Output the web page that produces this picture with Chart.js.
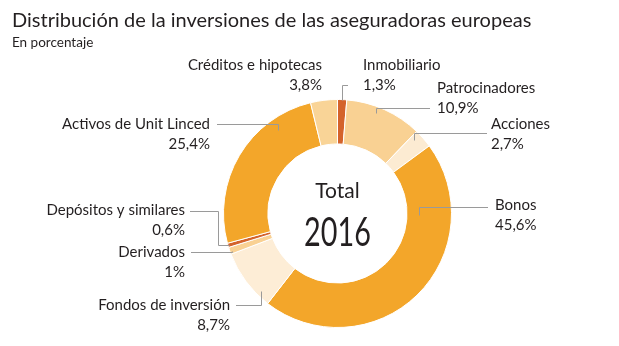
<!DOCTYPE html>
<html>
<head>
<meta charset="utf-8">
<script src="https://cdn.jsdelivr.net/npm/chart.js@4.4.1/dist/chart.umd.min.js"></script>
<style>
  html, body { margin: 0; padding: 0; background: #fff; }
  #wrap { width: 619px; height: 346px; }
</style>
</head>
<body>
<div id="wrap"><canvas id="chart" width="619" height="346"></canvas></div>
<script>
// data, clockwise from the top
const categories = ["Inmobiliario", "Patrocinadores", "Acciones", "Bonos", "Fondos de inversión",
  "Derivados", "Depósitos y similares", "Activos de Unit Linced", "Créditos e hipotecas"];
const values = [1.3, 10.9, 2.7, 45.6, 8.7, 1, 0.6, 25.4, 3.8];
const colors = ["#d4632b", "#f9d193", "#fcebd2", "#f3a62a", "#fdedd6",
  "#f9d193", "#d4632b", "#f3a62a", "#f9d497"];
const titleText = "Distribución de la inversiones de las aseguradoras europeas";
const subtitleText = "En porcentaje";
const centerTop = "Total";
const centerYear = "2016";

// where each label sits, and where its leader line starts
// at = [fraction along the arc, fraction across the ring]
const labelLayout = [
  { x: 363, y: 65, align: "left", line: { x: 348, y: 85 }, at: [0.5, 1.0] },
  { x: 437, y: 88, align: "left", line: { x: 430, y: 108 }, at: [0.42, 0.86] },
  { x: 491, y: 124, align: "left", line: { x: 487, y: 133 }, at: [0.2, 0.82] },
  { x: 495, y: 205, align: "left", line: { x: 488, y: 207 }, at: [0.23, 0.27] },
  { x: 230, y: 305, align: "right", line: { x: 236, y: 305 }, at: [0.21, 0.89] },
  { x: 185, y: 252, align: "right", line: { x: 191, y: 252 }, at: [0.3, 0.95] },
  { x: 185, y: 210, align: "right", line: { x: 190, y: 211, midX: 218 }, at: [0.6, 0.98] },
  { x: 210, y: 124, align: "right", line: { x: 217, y: 124 }, at: [0.76, 0.75] },
  { x: 322, y: 65, align: "right" }
];

const TEXT = "#231f20";
const FONT = "Lato, 'Open Sans', sans-serif";

function fmt(v){
  return String(v).replace(".", ",") + "%";
}

const labelsPlugin = {
  id: "labels",
  afterDraw(chart){
    const ctx = chart.ctx;
    const arcs = chart.getDatasetMeta(0).data;
    ctx.save();

    // title + subtitle
    ctx.fillStyle = TEXT;
    ctx.textAlign = "left";
    ctx.textBaseline = "alphabetic";
    ctx.font = "20px " + FONT;
    ctx.fillText(titleText, 12, 27);
    ctx.font = "13.5px " + FONT;
    ctx.fillText(subtitleText, 12, 47);

    // leader lines
    ctx.strokeStyle = "#9a9a9a";
    ctx.lineWidth = 1;
    labelLayout.forEach((lay, i) => {
      if(!lay.line) return;
      const a = arcs[i].getProps(["x","y","startAngle","endAngle","innerRadius","outerRadius"], true);
      const ang = a.startAngle + lay.at[0] * (a.endAngle - a.startAngle);
      const r = a.innerRadius + lay.at[1] * (a.outerRadius - a.innerRadius);
      const ax = Math.round(a.x + Math.cos(ang) * r) + 0.5;
      const ay = Math.round(a.y + Math.sin(ang) * r) + 0.5;
      const ly = lay.line.y + 0.5;
      ctx.beginPath();
      ctx.moveTo(lay.line.x, ly);
      if(lay.line.midX){
        ctx.lineTo(lay.line.midX + 0.5, ly);
        ctx.lineTo(lay.line.midX + 0.5, ay);
        ctx.lineTo(ax, ay);
      } else {
        ctx.lineTo(ax, ly);
        ctx.lineTo(ax, ay);
      }
      ctx.stroke();
    });

    // label texts
    ctx.fillStyle = TEXT;
    ctx.textBaseline = "middle";
    ctx.font = "15px " + FONT;
    labelLayout.forEach((lay, i) => {
      ctx.textAlign = lay.align;
      ctx.fillText(categories[i], lay.x, lay.y);
      ctx.fillText(fmt(values[i]), lay.x, lay.y + 20);
    });

    // centre text
    const c = arcs[0];
    ctx.textAlign = "center";
    ctx.textBaseline = "alphabetic";
    ctx.font = "21px " + FONT;
    ctx.fillText(centerTop, c.x, c.y - 16);
    ctx.save();
    ctx.translate(c.x, c.y + 32);
    ctx.scale(0.72, 1);
    ctx.font = "40px " + FONT;
    ctx.fillText(centerYear, 0, 0);
    ctx.restore();

    ctx.restore();
  }
};

new Chart(document.getElementById("chart"), {
  type: "doughnut",
  data: {
    labels: categories,
    datasets: [{
      data: values,
      backgroundColor: colors,
      borderColor: "#ffffff",
      borderWidth: 1,
      hoverOffset: 0
    }]
  },
  options: {
    responsive: false,
    animation: false,
    devicePixelRatio: 1,
    cutout: "61%",
    layout: { padding: { left: 223, right: 167, top: 99, bottom: 18 } },
    plugins: {
      legend: { display: false },
      tooltip: { enabled: false },
      title: { display: false }
    }
  },
  plugins: [labelsPlugin]
});
</script>
</body>
</html>
